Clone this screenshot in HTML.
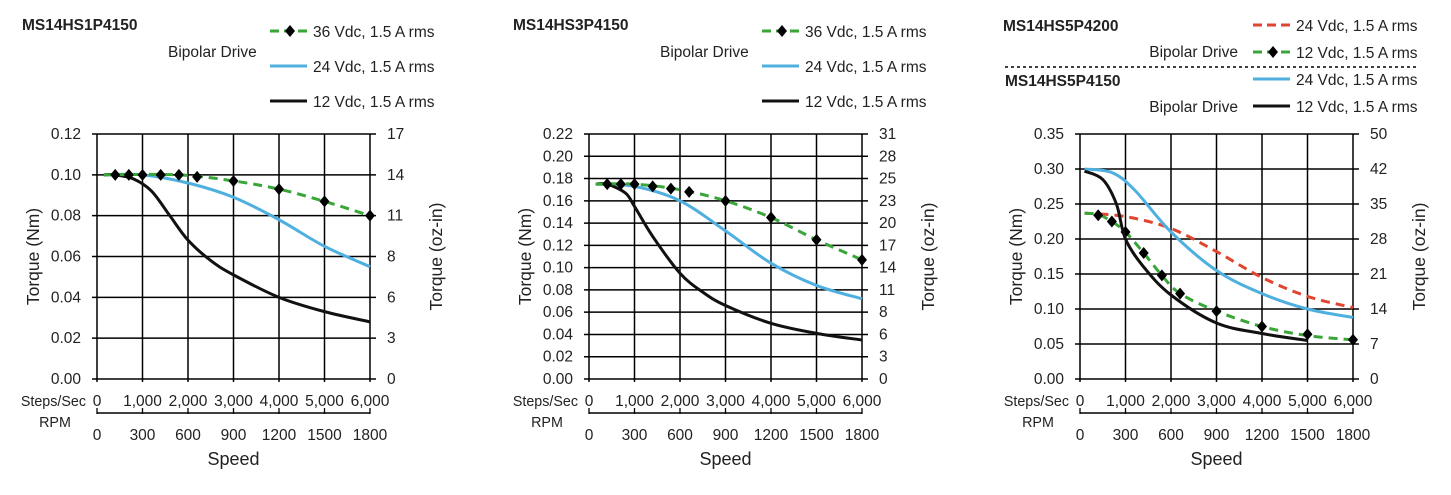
<!DOCTYPE html>
<html><head><meta charset="utf-8"><style>
html,body{margin:0;padding:0;background:#fff;}
svg{display:block;font-family:"Liberation Sans",Arial,sans-serif;}
</style></head><body>
<svg id="s" width="1451" height="495" viewBox="0 0 1451 495" xmlns="http://www.w3.org/2000/svg"></svg>
<script>
const S=document.getElementById('s');let h='';
function T(x,y,t,o){o=o||{};h+=`<text x="${x}" y="${y}" font-size="${o.fs||15.5}" fill="#222" ${o.a?`text-anchor="${o.a}"`:''} ${o.b?'font-weight="bold"':''} ${o.r?`transform="rotate(-90 ${x} ${y})"`:''}>${t}</text>`;}
function curve(pts){let d=`M${pts[0][0]},${pts[0][1]}`;for(let i=0;i<pts.length-1;i++){const p0=pts[Math.max(0,i-1)],p1=pts[i],p2=pts[i+1],p3=pts[Math.min(pts.length-1,i+2)];d+=` C${p1[0]+(p2[0]-p0[0])/6},${p1[1]+(p2[1]-p0[1])/6} ${p2[0]-(p3[0]-p1[0])/6},${p2[1]-(p3[1]-p1[1])/6} ${p2[0]},${p2[1]}`;}return d;}
function dia(x,y){h+=`<path d="M${x},${y-6}L${x+5},${y}L${x},${y+6}L${x-5},${y}Z" fill="#000"/>`;}
function chart(c){
 const L=c.x,R=c.x+273,Tp=134,B=379,ny=c.left.length-1;
 const X=v=>L+v/6000*(R-L),Y=v=>B-v/c.max*(B-Tp);
 for(let i=0;i<=ny;i++){const y=Tp+i*(B-Tp)/ny;h+=`<line x1="${L-5}" y1="${y}" x2="${R+6}" y2="${y}" stroke="#000" stroke-width="1.5"/>`;
  T(L-16,y+5,c.left[i],{a:'end'});T(R+17,y+5,c.right[i]);}
 for(let i=0;i<=6;i++){const x=L+i*(R-L)/6;h+=`<line x1="${x}" y1="${Tp}" x2="${x}" y2="${B+3}" stroke="#000" stroke-width="1.5"/>`;
  T(x,406,i==0?'0':(i+',000'),{a:'middle'});T(x,440,String(i*300),{a:'middle'});
  h+=`<line x1="${x}" y1="408" x2="${x}" y2="414" stroke="#000" stroke-width="1.3"/>`;}
 h+=`<line x1="${L}" y1="413" x2="${R}" y2="413" stroke="#000" stroke-width="1.5"/>`;
 T(L-11,406,'Steps/Sec',{a:'end',fs:14.3});T(L-42,427,'RPM',{a:'middle',fs:14.3});
 T((L+R)/2,465,'Speed',{a:'middle',fs:18});
 T(L-58,(Tp+B)/2,'Torque (Nm)',{a:'middle',r:1,fs:17.5});
 T(R+72,(Tp+B)/2,'Torque (oz-in)',{a:'middle',r:1,fs:17.5});
 c.series.forEach(s=>{const p=s.d.map(q=>[X(q[0]),Y(q[1])]);
  h+=`<path d="${curve(p)}" fill="none" stroke="${s.col}" stroke-width="3" ${s.dash?'stroke-dasharray="9,6"':''}/>`;
  if(s.m)s.m.forEach(q=>dia(X(q[0]),Y(q[1])));});
}
function leg(x,y,col,dash,mk,t){h+=`<line x1="${x}" y1="${y}" x2="${x+37}" y2="${y}" stroke="${col}" stroke-width="3" ${dash?'stroke-dasharray="9,5"':''}/>`;if(mk)dia(x+20,y);T(x+43,y+6,t);}
const G='#3aa63a',BL='#4fb0e0',RD='#e0452f',K='#111';
const mx=[400,700,1000,1400,1800,2200,3000,4000,5000,6000];
chart({x:97,max:0.12,left:['0.12','0.10','0.08','0.06','0.04','0.02','0.00'],right:['17','14','11','8','6','3','0'],series:[
{col:BL,d:[[150,.1],[1000,.1],[2000,.096],[3000,.089],[4000,.078],[5000,.065],[6000,.055]]},
{col:K,d:[[150,.1],[400,.1],[800,.098],[1200,.092],[1600,.08],[2000,.068],[2500,.058],[3000,.051],[4000,.040],[5000,.033],[6000,.028]]},
{col:G,dash:1,d:[[150,.1],[1800,.1],[3000,.097],[4000,.093],[5000,.087],[6000,.08]],m:mx.map((x,i)=>[x,[.1,.1,.1,.1,.1,.099,.097,.093,.087,.08][i]])}]});
T(22,30,'MS14HS1P4150',{b:1});T(168,57,'Bipolar Drive');
leg(270,31,G,1,1,'36 Vdc, 1.5 A rms');leg(270,66,BL,0,0,'24 Vdc, 1.5 A rms');leg(270,101,K,0,0,'12 Vdc, 1.5 A rms');
chart({x:589,max:0.22,left:['0.22','0.20','0.18','0.16','0.14','0.12','0.10','0.08','0.06','0.04','0.02','0.00'],right:['31','28','25','23','20','17','14','11','8','6','3','0'],series:[
{col:BL,d:[[150,.175],[1000,.173],[2000,.16],[3000,.133],[4000,.104],[5000,.084],[6000,.072]]},
{col:K,d:[[150,.175],[400,.175],[800,.167],[1000,.155],[1400,.128],[2000,.095],[2500,.078],[3000,.066],[4000,.05],[5000,.041],[6000,.035]]},
{col:G,dash:1,d:[[150,.175],[1000,.175],[2000,.17],[3000,.16],[4000,.145],[5000,.125],[6000,.107]],m:mx.map((x,i)=>[x,[.175,.175,.175,.173,.171,.168,.16,.145,.125,.107][i]])}]});
T(513,30,'MS14HS3P4150',{b:1});T(660,57,'Bipolar Drive');
leg(762,31,G,1,1,'36 Vdc, 1.5 A rms');leg(762,66,BL,0,0,'24 Vdc, 1.5 A rms');leg(762,101,K,0,0,'12 Vdc, 1.5 A rms');
chart({x:1080,max:0.35,left:['0.35','0.30','0.25','0.20','0.15','0.10','0.05','0.00'],right:['50','42','35','28','21','14','7','0'],series:[
{col:RD,dash:1,d:[[100,.237],[1000,.232],[2000,.215],[3000,.182],[4000,.145],[5000,.118],[6000,.102]]},
{col:BL,d:[[100,.3],[700,.295],[1200,.27],[2000,.21],[3000,.155],[4000,.122],[5000,.1],[6000,.088]]},
{col:G,dash:1,d:[[100,.237],[400,.235],[700,.225],[1000,.21],[1400,.18],[1800,.148],[2200,.122],[3000,.097],[4000,.075],[5000,.062],[6000,.056]],m:mx.map((x,i)=>[x,[.234,.225,.21,.18,.148,.122,.097,.075,.064,.056][i]])},
{col:K,d:[[100,.297],[500,.285],[800,.25],[1000,.2],[1400,.16],[2000,.12],[3000,.08],[4000,.065],[5000,.055]]}]});
T(1003,31,'MS14HS5P4200',{b:1});T(1005,86,'MS14HS5P4150',{b:1});
T(1238,57,'Bipolar Drive',{a:'end'});T(1238,112,'Bipolar Drive',{a:'end'});
h+=`<line x1="1005" y1="67" x2="1418" y2="67" stroke="#000" stroke-width="1.5" stroke-dasharray="3,3"/>`;
leg(1253,25,RD,1,0,'24 Vdc, 1.5 A rms');leg(1253,52,G,1,1,'12 Vdc, 1.5 A rms');leg(1253,79,BL,0,0,'24 Vdc, 1.5 A rms');leg(1253,106,K,0,0,'12 Vdc, 1.5 A rms');
S.innerHTML=h;
</script>
</body></html>
